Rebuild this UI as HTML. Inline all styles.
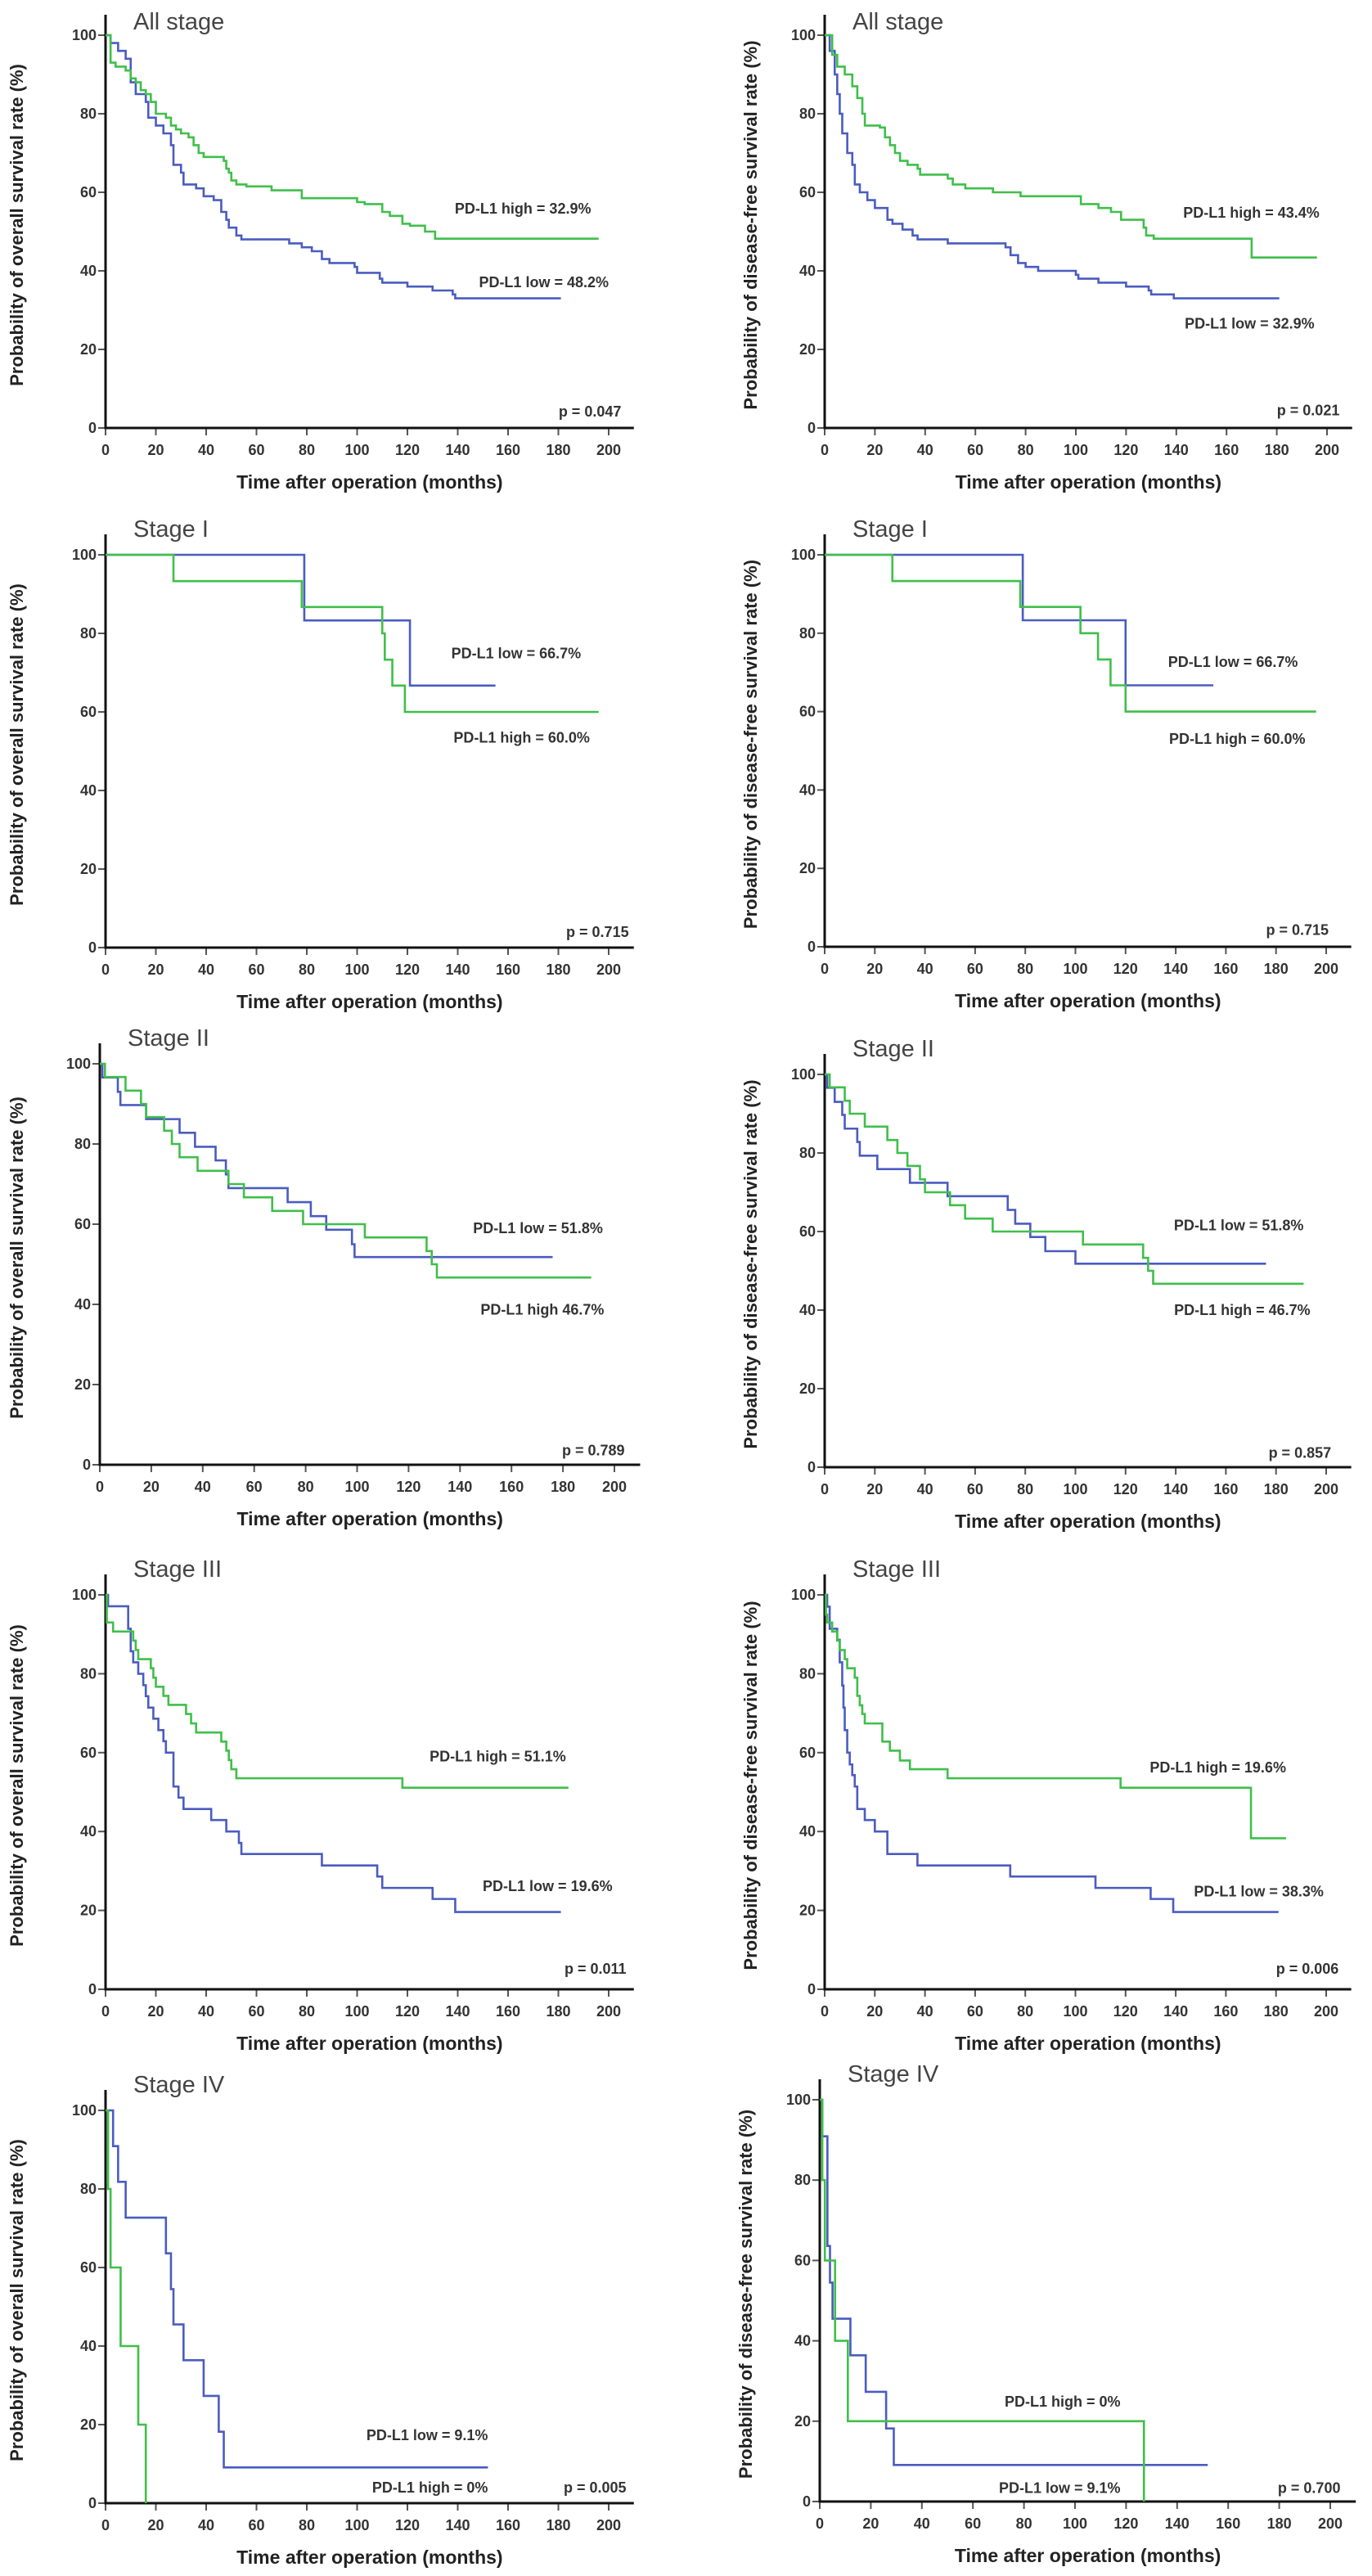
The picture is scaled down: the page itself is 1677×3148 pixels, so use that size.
<!DOCTYPE html>
<html><head><meta charset="utf-8"><style>
body{margin:0;background:#fff}
svg{display:block}
text{font-family:"Liberation Sans",Arial,sans-serif}
</style></head><body>
<svg id="fig" width="1677" height="3148" viewBox="0 0 1677 3148" xmlns="http://www.w3.org/2000/svg"></svg>
<script>
// ---- Data: step curves (time in months, survival %) ----
const p1HighT=[0,2,4,8,10,12,14,16,18,20,24,26,28,30,33,35,37,39,47,48,49,50,52,54,56,66,78,100,103,110,113,118,121,127,131,196];
const p1HighS=[100,93,92,91,89,88,86,85,83,80,79,77,76,75,74,72,70,69,68,66,65,63,62,62,61.5,60.5,58.5,57.5,57,55,54,52,51.5,50,48.2,48.2];
const p1LowT=[0,2,5,8,10,12,16,17,20,23,26,27,30,31,36,39,43,46,48,49,52,54,73,78,82,86,89,99,100,109,110,120,130,138,139,181];
const p1LowS=[100,98,96,94,88,85,83,79,77,75,72,67,65,62,61,59,58,55,53,51,49,48,47,46,45,43,42,41,39.5,38,37,36,35,34,33,33];
const p2HighT=[0,3,5,8,11,13,15,16,22,24,26,28,30,33,37,38,49,51,56,67,78,102,109,114,118,127,128,131,170,196];
const p2HighS=[100,95,92,90,87,84,80,77,76.5,74,72,70,68,67,66,64.5,63.5,62,61,60,59,57,56,55,53,51,49,48.2,43.4,43.4];
const p2LowT=[0,2,4,5,6,7,9,11,12,14,17,20,25,27,31,35,37,49,72,74,77,80,85,100,101,109,120,129,130,139,181];
const p2LowS=[100,96,90,85,80,75,70,67,62,60,58,56,53,52,50.5,49,48,47,46,44,42,41,40,39,38,37,36,35,34,33,33];
const p3LowT=[0,79,121,155];            const p3LowS=[100,83.3,66.7,66.7];
const p3HighT=[0,27,78,110,111,114,119,196]; const p3HighS=[100,93.3,86.7,80,73.3,66.7,60,60];
const p4LowT=[0,79,120,155];            const p4LowS=[100,83.3,66.7,66.7];
const p4HighT=[0,27,78,102,109,114,120,196]; const p4HighS=[100,93.3,86.7,80,73.3,66.7,60,60];
const p5LowT=[0,1,7,8,18,31,37,45,49,50,73,82,88,98,99,176];
const p5LowS=[100,96.6,93,89.7,86.2,82.8,79.3,75.9,72.4,69,65.5,62,58.6,55,51.8,51.8];
const p5HighT=[0,2,10,16,18,25,28,31,38,50,56,67,79,103,127,129,131,191];
const p5HighS=[100,96.7,93.3,90,86.7,83.3,80,76.7,73.3,70,66.7,63.3,60,56.7,53.3,50,46.7,46.7];
const p6LowT=[0,1,4,7,8,13,14,21,34,49,73,76,82,88,100,176];
const p6LowS=[100,96.6,93,89.7,86.2,82.8,79.3,75.9,72.4,69,65.5,62,58.6,55,51.8,51.8];
const p6HighT=[0,2,8,10,16,25,29,33,38,40,50,56,67,103,127,129,131,191];
const p6HighS=[100,96.7,93.3,90,86.7,83.3,80,76.7,73.3,70,66.7,63.3,60,56.7,53.3,50,46.7,46.7];
const p7LowT=[0,1,9,10,11,13,15,16,17,19,21,23,24,27,29,31,42,48,53,54,86,108,110,130,139,181];
const p7LowS=[100,97.1,91.4,85.7,82.9,80,77.1,74.3,71.4,68.6,65.7,62.9,60,51.4,48.6,45.7,42.9,40,37.1,34.3,31.4,28.6,25.7,22.9,19.6,19.6];
const p7HighT=[0,0.5,3,11,12,13,18,19,20,23,25,32,34,36,46,48,49,50,52,118,184];
const p7HighS=[100,93,90.7,88.4,86,83.7,81.4,79,76.7,74.4,72.1,69.8,67.4,65.1,62.8,60.5,58.1,55.8,53.5,51.1,51.1];
const p8LowT=[0,1,2,5,6,7,7.5,8,9,10,11,12,13,16,20,25,37,74,108,130,139,181];
const p8LowS=[100,97,91.4,88.6,82.9,77,71.4,65.7,60,57,54.3,51.4,45.7,42.9,40,34.3,31.4,28.6,25.7,22.9,19.6,19.6];
const p8HighT=[0,0.5,1,3,5,6,8,9,12,13,14,15,16,23,26,30,34,49,118,170,184];
const p8HighS=[100,95,93,90.7,88.4,86,83.7,81.4,79,74.4,72,69.8,67.4,62.8,60.5,58,55.8,53.5,51.1,38.3,38.3];
const p9LowT=[0,3,5,8,24,26,27,31,39,45,47,152];
const p9LowS=[100,90.9,81.8,72.7,63.6,54.5,45.5,36.4,27.3,18.2,9.1,9.1];
const p9HighT=[0,1,2,6,13,16];           const p9HighS=[100,80,60,40,20,0];
const p10LowT=[0,1,3,4,5,12,18,26,29,152];
const p10LowS=[100,90.9,63.6,54.5,45.5,36.4,27.3,18.2,9.1,9.1];
const p10HighT=[0,1,2,6,11,127];         const p10HighS=[100,80,60,40,20,0];
const xTicks=[0,20,40,60,80,100,120,140,160,180,200];
const yTicks=[0,20,40,60,80,100];

const GREEN="#3fbf4a", BLUE="#4a5cc0";
const OS="Probability of overall survival rate (%)", DFS="Probability of disease-free survival rate (%)";
const panels=[
 {name:"os-all",title:"All stage",yl:OS,x0:129,x200:744,y100:43,y0:523,tdy:-7,ytx:-101,
  high:[p1HighT,p1HighS],low:[p1LowT,p1LowS],
  labels:[["PD-L1 high = 32.9%",193,54.6],["PD-L1 low = 48.2%",200,35.8],["p = 0.047",205,2.9]]},
 {name:"dfs-all",title:"All stage",yl:DFS,x0:1008,x200:1622,y100:43,y0:523,tdy:-7,ytx:-83,
  high:[p2HighT,p2HighS],low:[p2LowT,p2LowS],
  labels:[["PD-L1 high = 43.4%",197,53.5],["PD-L1 low = 32.9%",195,25.3],["p = 0.021",205,3.2]]},
 {name:"os-stage1",title:"Stage I",yl:OS,x0:129,x200:744,y100:678,y0:1158,tdy:-22,ytx:-101,
  high:[p3HighT,p3HighS],low:[p3LowT,p3LowS],
  labels:[["PD-L1 low = 66.7%",189,73.6],["PD-L1 high = 60.0%",192.5,52.2],["p = 0.715",208,2.7]]},
 {name:"dfs-stage1",title:"Stage I",yl:DFS,x0:1008,x200:1621,y100:678,y0:1157,tdy:-22,ytx:-83,
  high:[p4HighT,p4HighS],low:[p4LowT,p4LowS],
  labels:[["PD-L1 low = 66.7%",188.7,71.4],["PD-L1 high = 60.0%",191.7,51.8],["p = 0.715",201,3]]},
 {name:"os-stage2",title:"Stage II",yl:OS,x0:122,x200:751,y100:1300,y0:1790,tdy:-22,ytx:-94,
  high:[p5HighT,p5HighS],low:[p5LowT,p5LowS],
  labels:[["PD-L1 low = 51.8%",195.5,57.8],["PD-L1 high 46.7%",196,37.5],["p = 0.789",204,2.3]]},
 {name:"dfs-stage2",title:"Stage II",yl:DFS,x0:1008,x200:1621,y100:1313,y0:1793,tdy:-22,ytx:-83,
  high:[p6HighT,p6HighS],low:[p6LowT,p6LowS],
  labels:[["PD-L1 low = 51.8%",191,60.3],["PD-L1 high = 46.7%",193.7,38.8],["p = 0.857",202,2.4]]},
 {name:"os-stage3",title:"Stage III",yl:OS,x0:129,x200:744,y100:1949,y0:2431,tdy:-22,ytx:-101,
  high:[p7HighT,p7HighS],low:[p7LowT,p7LowS],
  labels:[["PD-L1 high = 51.1%",183,57.8],["PD-L1 low = 19.6%",201.5,24.9],["p = 0.011",207,3.9]]},
 {name:"dfs-stage3",title:"Stage III",yl:DFS,x0:1008,x200:1621,y100:1949,y0:2431,tdy:-22,ytx:-83,
  high:[p8HighT,p8HighS],low:[p8LowT,p8LowS],
  labels:[["PD-L1 high = 19.6%",184,55],["PD-L1 low = 38.3%",199,23.5],["p = 0.006",205,3.9]]},
 {name:"os-stage4",title:"Stage IV",yl:OS,x0:129,x200:744,y100:2579,y0:3059,tdy:-22,ytx:-101,
  high:[p9HighT,p9HighS],low:[p9LowT,p9LowS],
  labels:[["PD-L1 low = 9.1%",152,16],["PD-L1 high = 0%",152,2.7],["p = 0.005",207,2.7]]},
 {name:"dfs-stage4",title:"Stage IV",yl:DFS,x0:1002,x200:1626,y100:2566,y0:3057,tdy:-22,ytx:-83,
  high:[p10HighT,p10HighS],low:[p10LowT,p10LowS],
  labels:[["PD-L1 high = 0%",117.8,23.6],["PD-L1 low = 9.1%",117.8,2.1],["p = 0.700",204,2.1]]}
];
const NS="http://www.w3.org/2000/svg";
const svg=document.getElementById("fig");
function mk(tag,attrs,parent){const e=document.createElementNS(NS,tag);for(const k in attrs)e.setAttribute(k,attrs[k]);(parent||svg).appendChild(e);return e;}

panels.forEach(p=>{
  const g=mk("g",{});
  
  
  const sx=v=>p.x0+(p.x200-p.x0)*v/200;
  const sy=v=>p.y0-(p.y0-p.y100)*v/100;
  const t=mk("text",{x:p.x0+34,y:p.y100+p.tdy,"font-size":29,fill:"#444"},g);
  t.textContent=p.title;
  
  
  const ymid=sy(50)-8, yx=p.x0+p.ytx;
  const yl=mk("text",{x:yx,y:ymid,"font-size":22,"font-weight":"bold",fill:"#222","text-anchor":"middle",transform:`rotate(-90 ${yx} ${ymid})`},g);
  yl.textContent=p.yl;
  
  
  const xl=mk("text",{x:sx(105),y:p.y0+74,"font-size":23,"font-weight":"bold",fill:"#222","text-anchor":"middle"},g);
  xl.textContent="Time after operation (months)";
  
  
  yTicks.forEach(v=>{
    const tk=mk("line",{x1:p.x0-9,x2:p.x0,y1:sy(v),y2:sy(v),stroke:"#555","stroke-width":2},g);
    
    
    const tl=mk("text",{x:p.x0-11,y:sy(v)+6,"font-size":18,"font-weight":"bold",fill:"#333","text-anchor":"end"},g);
    tl.textContent=v;
    
    
  });
  xTicks.forEach(v=>{
    const tk=mk("line",{x1:sx(v),x2:sx(v),y1:p.y0,y2:p.y0+9,stroke:"#555","stroke-width":2},g);
    
    
    const tl=mk("text",{x:sx(v),y:p.y0+33,"font-size":18,"font-weight":"bold",fill:"#333","text-anchor":"middle"},g);
    tl.textContent=v;
    
    
  });
  const ya=mk("line",{x1:p.x0,x2:p.x0,y1:p.y100-25,y2:p.y0+1.5,stroke:"#111","stroke-width":3},g);
  
  
  const xa=mk("line",{x1:p.x0-1.5,x2:sx(210),y1:p.y0,y2:p.y0,stroke:"#111","stroke-width":3},g);
  
  
  [["low",BLUE],["high",GREEN]].forEach(([k,col])=>{
    const T=p[k][0],S=p[k][1];
    let d=`M${sx(T[0])},${sy(S[0])}`;
    for(let i=1;i<T.length;i++){d+=` H${sx(T[i])} V${sy(S[i])}`;}
    const path=mk("path",{d:d,fill:"none",stroke:col,"stroke-width":2.6},g);
    
    
  });
  p.labels.forEach(([txt,xr,yv])=>{
    const a=mk("text",{x:sx(xr),y:sy(yv),"font-size":18,"font-weight":"bold",fill:"#333","text-anchor":"end"},g);
    a.textContent=txt;
    
    
  });
});
</script>
</body></html>
